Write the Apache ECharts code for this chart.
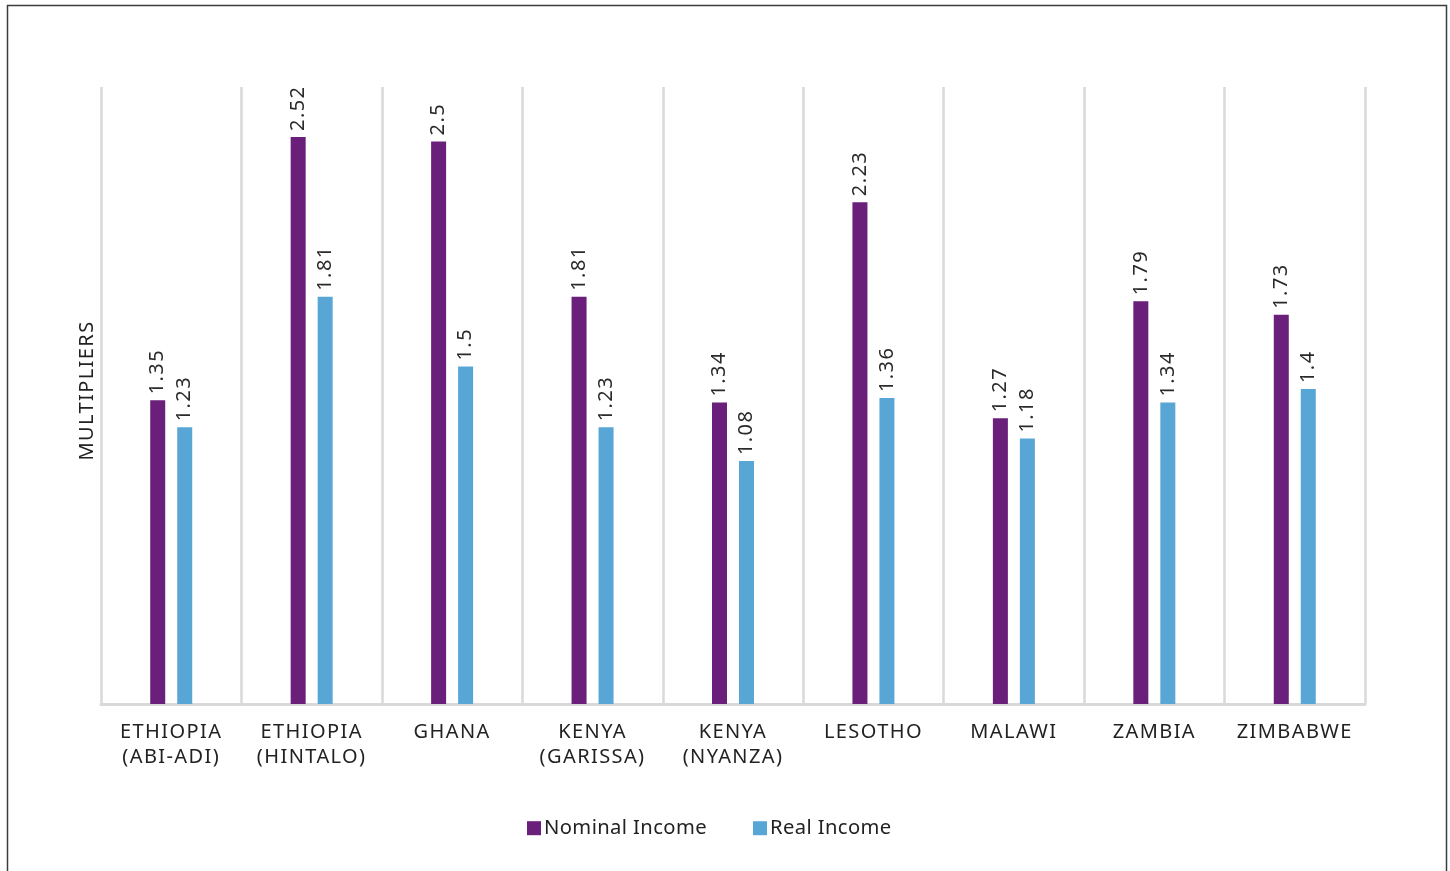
<!DOCTYPE html>
<html>
<head>
<meta charset="utf-8">
<script src="https://cdn.jsdelivr.net/npm/echarts@6/dist/echarts.min.js"></script>
<style>
html,body{margin:0;padding:0;background:#fff;}
#chart{width:1450px;height:871px;}
</style>
</head>
<body>
<div id="chart"></div>
<script>
const categories = ['ETHIOPIA\n(ABI-ADI)', 'ETHIOPIA\n(HINTALO)', 'GHANA', 'KENYA\n(GARISSA)', 'KENYA\n(NYANZA)', 'LESOTHO', 'MALAWI', 'ZAMBIA', 'ZIMBABWE'];
const nominalIncome = [1.35, 2.52, 2.5, 1.81, 1.34, 2.23, 1.27, 1.79, 1.73];
const realIncome = [1.23, 1.81, 1.5, 1.23, 1.08, 1.36, 1.18, 1.34, 1.4];
const seriesNames = ['Nominal Income', 'Real Income'];
const yAxisName = 'MULTIPLIERS';

// letter spacing by font size (the reference text is set with slight tracking)
(function () {
  const proto = CanvasRenderingContext2D.prototype;
  if (!('letterSpacing' in proto)) return;
  const spacingFor = function (font) {
    const m = /([\d.]+)px/.exec(font || '');
    if (!m) return '0px';
    const s = parseFloat(m[1]);
    if (Math.abs(s - 20) < 0.01) return '1.4px';
    if (Math.abs(s - 20.2) < 0.01) return '0.4px';
    return '0px';
  };
  const of = proto.fillText, om = proto.measureText;
  proto.fillText = function () { this.letterSpacing = spacingFor(this.font); return of.apply(this, arguments); };
  proto.measureText = function () { this.letterSpacing = spacingFor(this.font); return om.apply(this, arguments); };
})();

const FONT = '"Noto Sans", sans-serif';
const TEXT = '#222';
const chart = echarts.init(document.getElementById('chart'), null, {renderer: 'canvas'});
const labelCfg = {
  show: true, position: 'top', rotate: 90, align: 'left', verticalAlign: 'middle',
  distance: 6, fontFamily: FONT, fontSize: 20, color: '#2a2a2a'
};
chart.setOption({
  animation: false,
  graphic: [{
    type: 'rect', shape: {x: 7.5, y: 5.5, width: 1439, height: 900},
    style: {fill: 'none', stroke: '#3c3c3c', lineWidth: 1.5}, silent: true
  }],
  grid: {left: 101, right: 85, top: 87, bottom: 167},
  legend: {
    left: 527, top: 818, padding: 0, itemWidth: 14, itemHeight: 14, itemGap: 46,
    icon: 'rect',
    textStyle: {fontFamily: FONT, fontSize: 20.2, color: TEXT, padding: [0, 0, 0, -2]},
    data: seriesNames
  },
  xAxis: {
    type: 'category', data: categories,
    axisLine: {show: true, lineStyle: {color: '#d9d9d9', width: 3}},
    axisTick: {show: false},
    splitLine: {show: true, lineStyle: {color: '#d9d9d9', width: 2.5}},
    axisLabel: {fontFamily: FONT, fontSize: 20, color: TEXT, margin: 16, lineHeight: 25, interval: 0}
  },
  yAxis: {
    type: 'value', min: 0, max: 2.742,
    name: yAxisName, nameLocation: 'middle', nameRotate: 90, nameGap: 3,
    nameTextStyle: {fontFamily: FONT, fontSize: 20, color: TEXT, padding: [0, 0, 0, 10]},
    axisLine: {show: false}, axisTick: {show: false}, axisLabel: {show: false},
    splitLine: {show: false}
  },
  series: [
    {name: seriesNames[0], type: 'bar', data: nominalIncome, barWidth: 15, barGap: '80%',
     itemStyle: {color: '#6a1f7a'}, label: labelCfg},
    {name: seriesNames[1], type: 'bar', data: realIncome, barWidth: 15, barGap: '80%',
     itemStyle: {color: '#58a6d6'}, label: labelCfg}
  ]
});
</script>
</body>
</html>
